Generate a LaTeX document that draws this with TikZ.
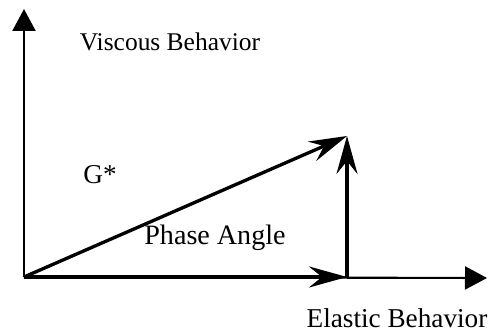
\documentclass[tikz,border=0pt]{standalone}
\usepackage{fontspec}
\setmainfont{Liberation Serif}
\usetikzlibrary{arrows.meta}
\begin{document}
\begin{tikzpicture}[
    x=0.02cm, y=-0.02cm,
    axis/.style={line width=1.2pt, -{Triangle[length=0.44cm, width=0.46cm]}},
    vect/.style={line width=1.9pt, -{Stealth[length=0.76cm, width=0.42cm, inset=0.26cm]}},
    lbl/.style={font=\fontsize{14.5}{17}\selectfont, inner sep=0pt},
  ]
    \useasboundingbox (0,0) rectangle (488,331);
    % === points ===
    \coordinate (O) at (24,277);
    \coordinate (ytop) at (24,9);
    \coordinate (xend) at (487,278);
    \coordinate (foot) at (347,277);
    \coordinate (tip) at (347,136);

    % axes
    \draw[axis] (O) -- (ytop);
    \draw[axis] (O) -- (xend);

    % vectors
    \draw[vect] (O) -- (foot);
    \draw[vect] (foot) -- (tip);
    \draw[vect] (O) -- (tip);

    % labels
    \node[lbl] (visc) at (170,42) {Viscous Behavior};
    \node[lbl, font=\fontsize{15.5}{18}\selectfont] (gstar) at (100,175) {G*};
    \node[lbl, font=\fontsize{16}{19}\selectfont] (phase) at (215,238) {Phase Angle};
    \node[lbl, font=\fontsize{15.5}{18}\selectfont] (elast) at (397,318) {Elastic Behavior};
  \end{tikzpicture}
\end{document}
